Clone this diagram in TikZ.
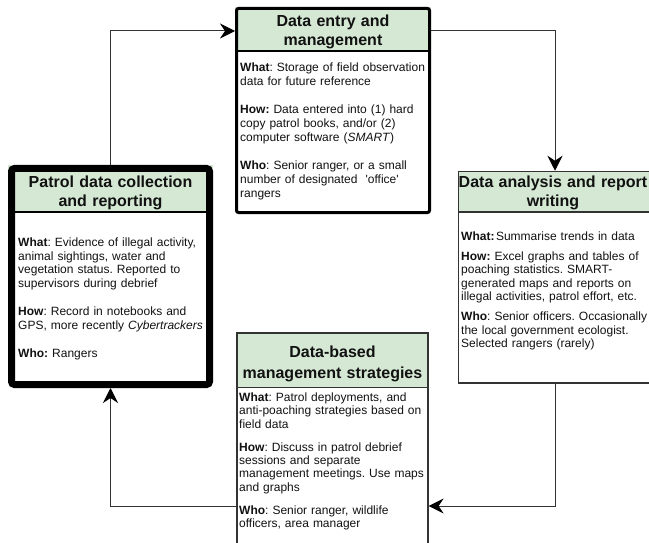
\documentclass[tikz,border=0pt]{standalone}
\usepackage{fontspec}
\setmainfont{Liberation Sans}
\usetikzlibrary{arrows.meta,backgrounds}
\definecolor{hdr}{HTML}{D5E8D4}
\definecolor{ln}{HTML}{333333}
\definecolor{txt}{HTML}{111111}
\frenchspacing
\begin{document}
\frenchspacing
\begin{tikzpicture}[x=1pt,y=-1pt,
  boxshape/.style={draw=black, rectangle, inner sep=0pt, minimum width=#1},
  hdrtxt/.style={font=\fontsize{16}{#1}\selectfont\bfseries, text=txt, align=center, text width=220pt, inner sep=0pt, anchor=base},
  bodytxt/.style={font=\fontsize{12}{14}\selectfont\frenchspacing, text=txt, align=left, text width=215pt, inner sep=0pt, anchor=base west},
  bodytxtb/.style={font=\fontsize{12}{#1}\selectfont\frenchspacing, text=txt, align=left, text width=215pt, inner sep=0pt, anchor=base west},
  arr/.style={draw=ln, line width=1pt, -{Stealth[length=15pt,width=15pt,inset=5pt,color=black]}},
  divider/.style={draw=black}
]
\useasboundingbox (0,0) rectangle (649,543);

% boxes
\node[boxshape=193pt, minimum height=204pt, line width=3pt, outer sep=1.5pt, rounded corners=2pt] (b1) at (333,110.5) {};
\node[boxshape=198pt, minimum height=216pt, line width=7pt, outer sep=3.5pt, rounded corners=3pt] (b2) at (110.5,276.5) {};
\node[boxshape=193pt, minimum height=211.5pt, line width=1.5pt, outer sep=0.75pt, draw=ln] (b3) at (555,277.25) {};
\node[boxshape=191pt, minimum height=222pt, line width=1.2pt, outer sep=0.6pt, draw=ln] (b4) at (332.5,444) {};

% header fills and dividers
\begin{scope}[on background layer]
  \fill[hdr] (b1.north west) rectangle (b1.east |- 0,51);
  \fill[hdr] (b2.north west) rectangle (b2.east |- 0,212);
  \fill[hdr] (b3.north west) rectangle (b3.east |- 0,212);
  \fill[hdr] (b4.north west) rectangle (b4.east |- 0,387);
\end{scope}
\draw[divider, line width=1.5pt] (b1.west |- 0,51) -- (b1.east |- 0,51);
\draw[divider, line width=2pt] (b2.west |- 0,212) -- (b2.east |- 0,212);
\draw[divider, line width=1.2pt, draw=ln] (b3.west |- 0,212) -- (b3.east |- 0,212);
\draw[divider, line width=1pt, draw=ln] (b4.west |- 0,387) -- (b4.east |- 0,387);

% headers
\node[hdrtxt=18.5] (h1) at (333,27) {Data entry and\\management};
\node[hdrtxt=19.5] (h2) at (110.5,187.5) {Patrol data collection\\and reporting};
\node[hdrtxt=19.5] (h3) at (553,187.5) {Data analysis and report\\writing};
\node[hdrtxt=21] (h4) at (332.5,357.5) {Data-based\\management strategies};

% bodies
\node[bodytxt] (t1) at (240,72) {\textbf{What}: Storage of field observation\\
data for future reference\\[14pt]
\textbf{How:} Data entered into (1) hard\\
copy patrol books, and/or (2)\\
computer software (\textit{SMART})\\[14pt]
\textbf{Who}: Senior ranger, or a small\\
number of designated\ \ \textquotesingle office\textquotesingle\\
rangers};

\node[bodytxt] (t2) at (18,246) {\textbf{What}: Evidence of illegal activity,\\
animal sightings, water and\\
vegetation status. Reported to\\
supervisors during debrief\\[14pt]
\textbf{How}: Record in notebooks and\\
GPS, more recently \textit{Cybertrackers}\\[14pt]
\textbf{Who:} Rangers};

\node[bodytxtb=13.4] (t3) at (461,240.5) {\textbf{What:}\hspace{1.5pt}Summarise trends in data\\[6.6pt]
\textbf{How:} Excel graphs and tables of\\
poaching statistics. SMART-\\
generated maps and reports on\\
illegal activities, patrol effort, etc.\\[6.6pt]
\textbf{Who}: Senior officers. Occasionally\\
the local government ecologist.\\
Selected rangers (rarely)};

\node[bodytxtb=13.3] (t4) at (239,401.5) {\textbf{What}: Patrol deployments, and\\
anti-poaching strategies based on\\
field data\\[9.7pt]
\textbf{How}: Discuss in patrol debrief\\
sessions and separate\\
management meetings. Use maps\\
and graphs\\[9.7pt]
\textbf{Who}: Senior ranger, wildlife\\
officers, area manager};

% connectors
\draw[arr] (b2.north) |- (b1.west |- 0,31);
\draw[arr] (b1.east |- 0,31) -| (b3.north);
\draw[arr] (b3.south) |- (b4.east |- 0,506);
\draw[arr] (b4.west |- 0,506) -| (b2.south);
\end{tikzpicture}
\end{document}
